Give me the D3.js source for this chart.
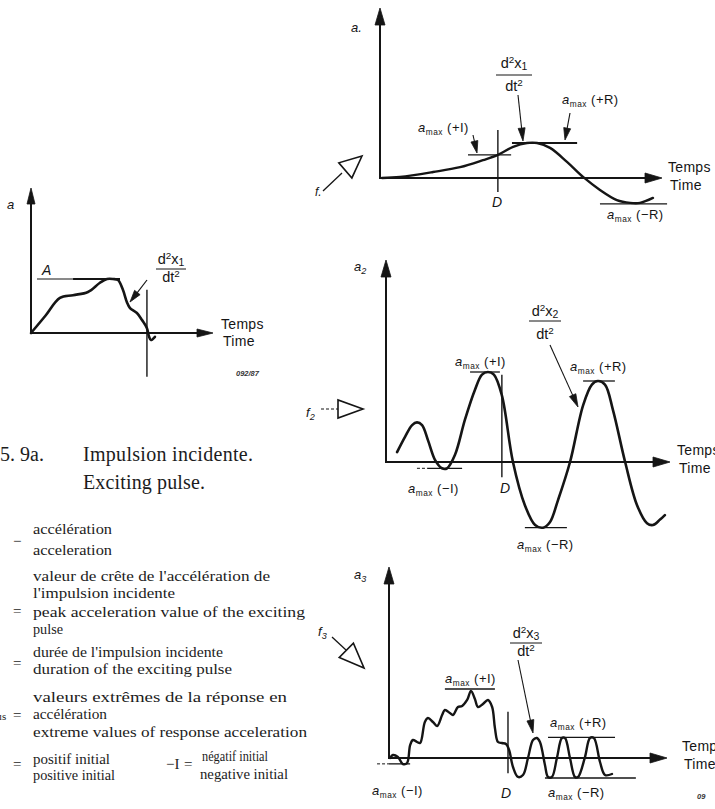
<!DOCTYPE html>
<html><head><meta charset="utf-8">
<script src="https://cdn.jsdelivr.net/npm/d3@7"></script>
<style>
html,body{margin:0;padding:0;background:#fff;}
svg{display:block;}
</style></head><body>
<svg id="fig" width="715" height="809"></svg>
<script>
// ---------- DATA (time in % of panel span, acceleration in relative units) ----------
const pulseT = [0,7.7,15.9,23.1,31.3,37.9,41.8,45.1,47.8,50.5,52.7,54.4,58.2,61.0,63.7,64.8,65.9,68.1];
const pulseA = [0,3.1,6.5,7.0,7.6,9.3,10,10,9.8,8.0,5.7,4.6,3.7,2.4,0.9,-0.6,-1.3,-0.7];

const resp1T = [0.7,7.1,18.8,28.4,36.5,41.8,47.2,52.1,55.7,60.3,66.3,72,78,84,88.7,92.2,96.8];
const resp1A = [0,0.3,1.7,3.1,5.1,6.6,8.9,10,10,8.6,4.6,0.3,-3.4,-6.3,-7.1,-7.1,-5.7];

const resp2T = [3.9,6.7,9.2,10.9,12.7,14.8,17.3,19.7,21.5,24.3,27.8,31.3,33.8,35.9,38,40.8,44.7,48.9,52.5,55.3,57.7,60.6,64.8,69.4,72.5,74.6,77.1,79.9,84.2,88.4,91.9,94,96.5,98.2];
const resp2A = [1.1,2.8,4.1,4.4,4.1,2.4,0.2,-0.7,-0.7,0.8,4.7,8,9.7,10,9.7,7.4,0,-4.8,-7,-7.3,-6.7,-4.2,0,6.3,8.6,9,8.6,5.8,0,-4.8,-6.8,-7,-6.4,-5.9];

const resp3T = [0.4,1.4,3.2,5.0,6.5,7.6,8.6,10.1,11.2,12.9,14.0,15.8,17.3,19.1,20.1,21.9,23.0,24.8,26.3,28.1,29.5,30.9,32.0,33.8,35.6,37.1,38.1,39.2,40.6,42.1,43.2,44.6,46.4,48.2,50.0,51.8,53.2,54.3,56.1,57.2,58.6,60.4,62.2,63.3,65.1,66.9,68.0,70.5,72.3,73.7,75.9,77.7,80.2];
const resp3A = [0,0.43,0.14,-0.87,-0.72,1.88,2.61,2.32,2.17,5.22,5.80,5.22,4.64,6.23,6.96,6.52,6.23,7.39,7.54,8.41,9.71,8.55,7.39,7.83,8.41,7.39,4.35,2.32,2.17,2.03,1.16,-1.30,-2.75,-2.46,0,2.61,2.90,2.32,-1.01,-2.75,-2.75,0,2.90,2.90,0,-2.75,-2.75,0.14,2.90,2.90,-0.58,-2.46,-2.32];

// reference levels: [tStart, tEnd, level]
const pulseLevelThin  = [3.3, 23.1, 10];
const pulseLevelThick = [23.1, 48.9, 10];
const resp1Levels = [[31.2,46.5,6.6],[46.8,69.9,10],[78,101.8,-7.4]];
const resp2Levels = [[29.6,40.1,10],[14.5,26.8,-0.7],[48.9,63.7,-7.3],[69.4,80.6,9]];
const resp2Dashed = [[10.9,14.5,-0.7]];
const resp3Levels = [[20.1,38.1,10],[0,7.6,-0.85],[57.2,81.3,3.0],[56.1,88.8,-2.9]];
const resp3Dashed = [[-4.3,0,-0.85]];
// pulse duration D: [time, levelTop, levelBottom]
const pulseD = [63.7, 8.0, -8.1];
const resp1D = [41.8, 13.7, -4];
const resp2D = [40.8, 9.7, -1.7];
const resp3D = [42.8, 6.7, -2.2];

const timeLabels = ["Temps", "Time"];
const captionLines = ["Impulsion incidente.", "Exciting pulse."];

// ---------- DRAWING ----------
const svg = d3.select('#fig');
const SANS = '"Liberation Sans", Arial, sans-serif';
const SERIF = '"Liberation Serif", "Times New Roman", serif';
const INK = '#151515';

function panel(x0, xTip, y0, y10) {
  return {
    x: d3.scaleLinear().domain([0,100]).range([x0, xTip]),
    y: d3.scaleLinear().domain([0,10]).range([y0, y10])
  };
}
function head(g, x1, y1, x2, y2, len, half, hollow) {
  const a = Math.atan2(y2-y1, x2-x1);
  const bx = x2 - len*Math.cos(a), by = y2 - len*Math.sin(a);
  const px = -Math.sin(a)*half, py = Math.cos(a)*half;
  g.append('path')
    .attr('d', `M${x2},${y2}L${bx+px},${by+py}L${bx-px},${by-py}Z`)
    .attr('fill', hollow ? 'none' : INK).attr('stroke', INK)
    .attr('stroke-width', hollow ? 1.6 : 0.8).attr('stroke-linejoin','miter');
}
function arrow(g, x1, y1, x2, y2, len, half, w) {
  const a = Math.atan2(y2-y1, x2-x1);
  g.append('line').attr('x1',x1).attr('y1',y1)
    .attr('x2',x2-len*0.6*Math.cos(a)).attr('y2',y2-len*0.6*Math.sin(a))
    .attr('stroke',INK).attr('stroke-width',w||1.1);
  head(g, x1, y1, x2, y2, len, half);
}
function axes(g, sc, yTop, ah, aw) {
  const x0 = sc.x(0), y0 = sc.y(0), xt = sc.x(100);
  g.append('line').attr('x1',x0).attr('y1',y0).attr('x2',x0).attr('y2',yTop+ah-2)
    .attr('stroke',INK).attr('stroke-width',2);
  head(g, x0, yTop+ah, x0, yTop, ah, aw);
  g.append('line').attr('x1',x0-1).attr('y1',y0).attr('x2',xt-ah+2).attr('y2',y0)
    .attr('stroke',INK).attr('stroke-width',2);
  head(g, xt-ah, y0, xt, y0, ah, aw);
}
function curve(g, sc, T, A, w) {
  const line = d3.line().x(d=>sc.x(d[0])).y(d=>sc.y(d[1]))
    .curve(d3.curveCatmullRom.alpha(0.5));
  g.append('path').attr('d', line(d3.zip(T, A)))
    .attr('fill','none').attr('stroke',INK).attr('stroke-width',w||2.6)
    .attr('stroke-linejoin','round').attr('stroke-linecap','round');
}
function level(g, sc, l, w, dash) {
  g.append('line').attr('x1',sc.x(l[0])).attr('x2',sc.x(l[1]))
    .attr('y1',sc.y(l[2])).attr('y2',sc.y(l[2]))
    .attr('stroke',INK).attr('stroke-width',w||1.3)
    .attr('stroke-dasharray', dash || null);
}
function dLine(g, sc, d, lx, ly) {
  g.append('line').attr('x1',sc.x(d[0])).attr('x2',sc.x(d[0]))
    .attr('y1',sc.y(d[1])).attr('y2',sc.y(d[2]))
    .attr('stroke',INK).attr('stroke-width',1.4);
  if (lx !== undefined)
    g.append('text').attr('x',lx).attr('y',ly).attr('text-anchor','middle')
      .attr('font-family',SANS).attr('font-style','italic').attr('font-size',14)
      .attr('fill',INK).text('D');
}
function amax(g, x, y, sign, size) {
  const t = g.append('text').attr('x',x).attr('y',y).attr('font-family',SANS)
    .attr('font-size',size||13).attr('fill',INK).attr('letter-spacing',0.5);
  t.append('tspan').attr('font-style','italic').text('a');
  t.append('tspan').attr('font-size','0.64em').attr('dy',2.5).text('max');
  t.append('tspan').attr('dy',-2.5).text('\u00a0(' + sign + ')');
}
function frac(g, cx, yNum, yBar, yDen, idx, halfW) {
  const n = g.append('text').attr('x',cx).attr('y',yNum).attr('text-anchor','middle')
    .attr('font-family',SANS).attr('font-size',14.5).attr('fill',INK);
  n.append('tspan').text('d');
  n.append('tspan').attr('font-size','0.68em').attr('dy',-5).text('2');
  n.append('tspan').attr('dy',5).text('x');
  n.append('tspan').attr('font-size','0.72em').attr('dy',2).text(idx);
  g.append('line').attr('x1',cx-halfW).attr('x2',cx+halfW).attr('y1',yBar).attr('y2',yBar)
    .attr('stroke',INK).attr('stroke-width',1);
  const d = g.append('text').attr('x',cx).attr('y',yDen).attr('text-anchor','middle')
    .attr('font-family',SANS).attr('font-size',14.5).attr('fill',INK);
  d.append('tspan').text('dt');
  d.append('tspan').attr('font-size','0.68em').attr('dy',-5).text('2');
}
function timeLbl(g, x, y1, y2) {
  g.append('text').attr('x',x).attr('y',y1).attr('font-family',SANS).attr('font-size',14)
    .attr('fill',INK).attr('letter-spacing',0.3).text(timeLabels[0]);
  g.append('text').attr('x',x+2).attr('y',y2).attr('font-family',SANS).attr('font-size',14)
    .attr('fill',INK).attr('letter-spacing',0.3).text(timeLabels[1]);
}
function ital(g, x, y, txt, size, sub) {
  const t = g.append('text').attr('x',x).attr('y',y).attr('font-family',SANS)
    .attr('font-style','italic').attr('font-size',size).attr('fill',INK);
  t.append('tspan').text(txt);
  if (sub) t.append('tspan').attr('font-size','0.7em').attr('dy',3).text(sub);
}

// ----- Panel 0 : exciting pulse -----
{
  const g = svg.append('g');
  const sc = panel(31, 213, 333, 279);
  axes(g, sc, 188, 16, 4);
  level(g, sc, pulseLevelThin, 1);
  level(g, sc, pulseLevelThick, 2);
  curve(g, sc, pulseT, pulseA, 2.6);
  dLine(g, sc, pulseD);
  ital(g, 7, 209, 'a', 13);
  ital(g, 42, 275, 'A', 14);
  frac(g, 171, 264, 269, 282, '1', 15);
  arrow(g, 147, 280, 130, 302, 12, 3.5, 1.2);
  timeLbl(g, 221, 329, 346);
  g.append('text').attr('x',236).attr('y',376).attr('font-family',SANS)
    .attr('font-style','italic').attr('font-weight','bold').attr('font-size',7.5)
    .attr('fill','#333').text('092/87');
}

// ----- Panel 1 -----
{
  const g = svg.append('g');
  const sc = panel(380, 662, 178, 143);
  axes(g, sc, 8, 17, 5);
  resp1Levels.forEach((l,i)=>level(g, sc, l, i===1 ? 1.8 : 1.2));
  curve(g, sc, resp1T, resp1A, 2.4);
  dLine(g, sc, resp1D, 497, 207);
  ital(g, 351, 32, 'a.', 13);
  amax(g, 418, 132, '+I');
  arrow(g, 473, 135, 477, 153, 12, 3.5);
  frac(g, 514, 68, 75, 91, '1', 18);
  arrow(g, 518, 95, 523, 141, 13, 3.5);
  amax(g, 562, 104, '+R');
  arrow(g, 570, 113, 565, 140, 12, 3.5);
  amax(g, 607, 219, '\u2212R');
  timeLbl(g, 668, 172, 190);
  ital(g, 315, 196, 'f.', 12);
  g.append('line').attr('x1',323).attr('y1',191).attr('x2',342).attr('y2',173)
    .attr('stroke',INK).attr('stroke-width',1.3);
  head(g, 340, 175, 362, 156, 22, 10, true);
}

// ----- Panel 2 -----
{
  const g = svg.append('g');
  const sc = panel(386, 670, 462, 372);
  axes(g, sc, 260, 17, 5);
  resp2Levels.forEach(l=>level(g, sc, l, 1.3));
  resp2Dashed.forEach(l=>level(g, sc, l, 1, '3,2'));
  curve(g, sc, resp2T, resp2A, 2.6);
  dLine(g, sc, resp2D, 505, 493);
  ital(g, 354, 271, 'a', 13, '2');
  amax(g, 455, 366, '+I');
  amax(g, 408, 493, '\u2212I');
  amax(g, 517, 549, '\u2212R');
  amax(g, 570, 371, '+R');
  frac(g, 545, 316, 321, 339, '2', 16);
  arrow(g, 550, 345, 578, 407, 13, 3.5);
  timeLbl(g, 677, 455, 473);
  ital(g, 306, 417, 'f', 13, '2');
  g.append('line').attr('x1',321).attr('y1',409).attr('x2',338).attr('y2',409)
    .attr('stroke',INK).attr('stroke-width',1.2).attr('stroke-dasharray','3,2');
  head(g, 337, 409, 363, 409, 25, 9, true);
}

// ----- Panel 3 -----
{
  const g = svg.append('g');
  const sc = panel(389, 667, 758, 689);
  axes(g, sc, 567, 17, 5);
  resp3Levels.forEach(l=>level(g, sc, l, 1.3));
  resp3Dashed.forEach(l=>level(g, sc, l, 1, '3,2'));
  curve(g, sc, resp3T, resp3A, 2.4);
  dLine(g, sc, resp3D, 506, 798);
  ital(g, 354, 579, 'a', 13, '3');
  amax(g, 445, 683, '+I');
  amax(g, 372, 795, '\u2212I');
  amax(g, 550, 727, '+R');
  amax(g, 548, 797, '\u2212R');
  frac(g, 526, 638, 643, 656, '3', 16);
  arrow(g, 518, 660, 533, 733, 13, 3.5);
  timeLbl(g, 682, 751, 769);
  ital(g, 318, 636, 'f', 13, '3');
  g.append('line').attr('x1',332).attr('y1',637).attr('x2',346).attr('y2',650)
    .attr('stroke',INK).attr('stroke-width',1.3);
  head(g, 343, 647, 364, 668, 25, 10, true);
  g.append('text').attr('x',697).attr('y',799).attr('font-family',SANS)
    .attr('font-style','italic').attr('font-weight','bold').attr('font-size',7.5)
    .attr('fill','#333').text('09');
}

// ----- Caption and definitions -----
{
  const g = svg.append('g').attr('font-family',SERIF).attr('fill','#1c1c1c');
  g.append('text').attr('x',0).attr('y',461).attr('font-size',20).text('5. 9a.');
  g.append('text').attr('x',83).attr('y',461).attr('font-size',20)
    .attr('textLength',170).attr('lengthAdjust','spacing').text(captionLines[0]);
  g.append('text').attr('x',83).attr('y',489).attr('font-size',20)
    .attr('textLength',122).attr('lengthAdjust','spacing').text(captionLines[1]);

  const defs = [
    [33,534,"accélération",79],
    [33,555,"acceleration",79],
    [33,581,"valeur de crête de l'accélération de",237],
    [33,598,"l'impulsion incidente",142],
    [33,617,"peak acceleration value of the exciting",272],
    [33,634,"pulse",30],
    [33,657,"durée de l'impulsion incidente",190],
    [33,674,"duration of the exciting pulse",199],
    [33,702,"valeurs extrêmes de la réponse en",254],
    [33,719,"accélération",74],
    [33,737,"extreme values of response acceleration",274],
    [33,764,"positif initial",77],
    [33,780,"positive initial",82],
    [202,761,"négatif initial",66],
    [200,779,"negative initial",88]
  ];
  defs.forEach(d=>{
    g.append('text').attr('x',d[0]).attr('y',d[1]).attr('font-size',15.5)
      .attr('textLength',d[3]).attr('lengthAdjust','spacingAndGlyphs').text(d[2]);
  });
  const eqs = [[13,546,'\u2212'],[13,616,'='],[13,668,'='],[13,720,'='],[13,769,'='],[184,769,'=']];
  eqs.forEach(e=>g.append('text').attr('x',e[0]).attr('y',e[1]).attr('font-size',15).text(e[2]));
  g.append('text').attr('x',166).attr('y',769).attr('font-size',15).text('\u2212I');
  g.append('text').attr('x',-1).attr('y',720).attr('font-size',11).text('ıs');
}
</script></body></html>
